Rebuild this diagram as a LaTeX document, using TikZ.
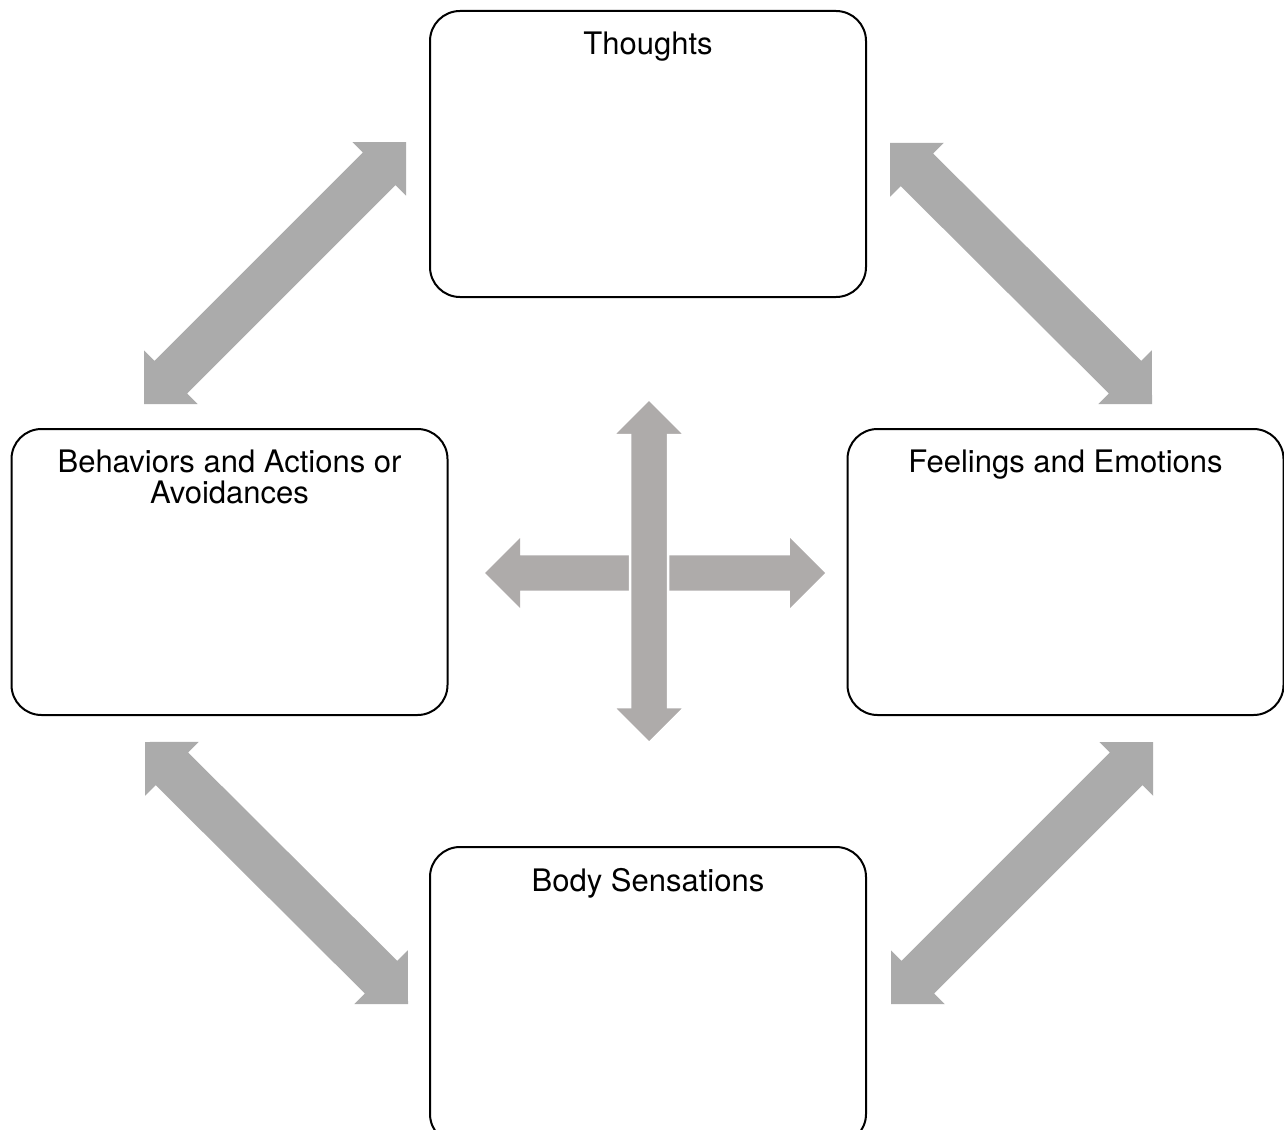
\documentclass[tikz,border=0pt]{standalone}
\usepackage{fontspec}
\setmainfont{TeX Gyre Heros}
\usetikzlibrary{calc}
\definecolor{diagray}{HTML}{ABABAB}
\definecolor{crossgray}{HTML}{AEABAA}
% #1 start coord, #2 end coord, #3 shaft half width, #4 head half width (= head length), #5 style
\newcommand\DblArrow[5]{%
  \path ($(#1)!#4!(#2)$) coordinate (da1) ($(#2)!#4!(#1)$) coordinate (da2);
  \path[#5] (#1) -- ($(da1)!#4!90:(#2)$) -- ($(da1)!#3!90:(#2)$)
    -- ($(da2)!#3!-90:(#1)$) -- ($(da2)!#4!-90:(#1)$) -- (#2)
    -- ($(da2)!#4!90:(#1)$) -- ($(da2)!#3!90:(#1)$)
    -- ($(da1)!#3!-90:(#2)$) -- ($(da1)!#4!-90:(#2)$) -- cycle;}
\begin{document}
\begin{tikzpicture}[x=1pt,y=-1pt,
  box/.style={draw=black,line width=2pt,rounded corners=30pt,inner sep=0pt,outer sep=0pt,
    minimum width=436pt,minimum height=286pt},
  title/.style={anchor=base,align=center,inner sep=0pt,font=\fontsize{31}{31}\selectfont},
  diag/.style={fill=diagray},
  cross/.style={fill=crossgray},
  crosstop/.style={fill=crossgray,draw=white,line width=2.5pt}]
\useasboundingbox (0,0) rectangle (1284,1129);

% boxes
\node[box] (thoughts) at (648,154) {};
\node[box] (behav) at (229.5,572) {};
\node[box] (feel) at (1065.5,572) {};
\node[box,minimum height=297pt] (body) at (648,995.5) {};

% titles
\node[title] (tT) at ([yshift=-44pt]thoughts.north) {Thoughts};
\node[title] (tB) at ([yshift=-74pt]behav.north) {Behaviors and Actions or\\Avoidances};
\node[title] (tF) at ([yshift=-43pt]feel.north) {Feelings and Emotions};
\node[title] (tS) at ([yshift=-44pt]body.north) {Body Sensations};

% diagonal double arrows
\coordinate (tl1) at (406,142); \coordinate (tl2) at (144,404);
\coordinate (tr1) at (890,143); \coordinate (tr2) at (1152,404);
\coordinate (bl1) at (145,742); \coordinate (bl2) at (408,1004);
\coordinate (br1) at (1153,742); \coordinate (br2) at (891,1004);
\DblArrow{tl1}{tl2}{23pt}{38pt}{diag}
\DblArrow{tr1}{tr2}{23pt}{38pt}{diag}
\DblArrow{bl1}{bl2}{23pt}{38pt}{diag}
\DblArrow{br1}{br2}{23pt}{38pt}{diag}

% central cross
\coordinate (hl) at (485,573); \coordinate (hr) at (825,573);
\coordinate (vt) at (649,399); \coordinate (vb) at (649,743);
\DblArrow{hl}{hr}{17.6pt}{35pt}{cross}
\DblArrow{vt}{vb}{19pt}{36pt}{crosstop}
\end{tikzpicture}
\end{document}
